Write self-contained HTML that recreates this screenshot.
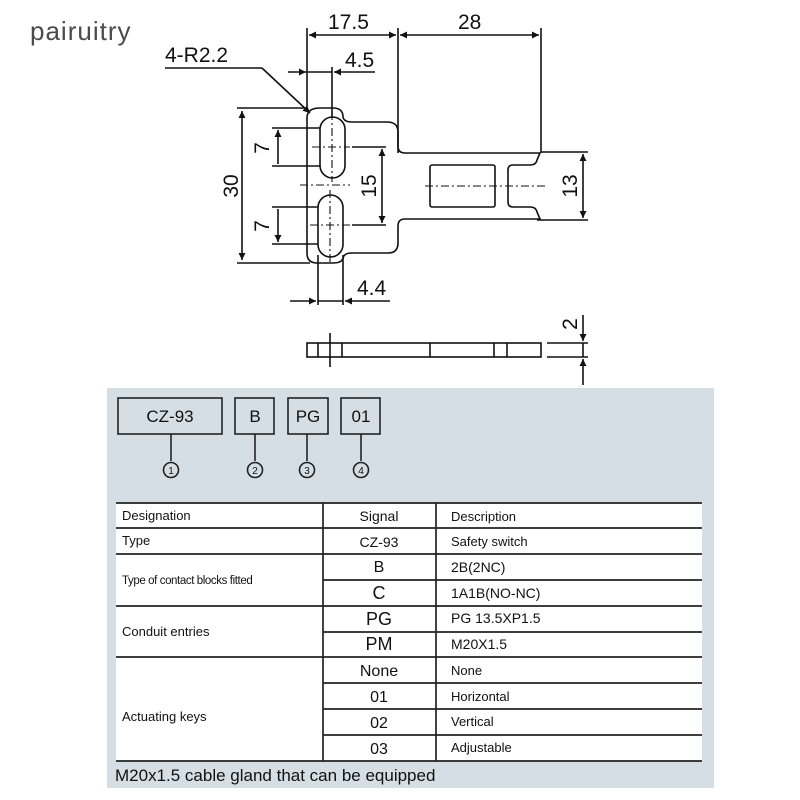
<!DOCTYPE html>
<html><head><meta charset="utf-8"><style>
html,body{margin:0;padding:0;background:#fff;}
svg{display:block;}
text{font-family:"Liberation Sans",Arial,sans-serif;fill:#111;}
</style></head><body>
<svg width="800" height="800" viewBox="0 0 800 800" xmlns="http://www.w3.org/2000/svg">
<defs>
<marker id="a" viewBox="0 0 10 10" refX="10" refY="5" markerWidth="11" markerHeight="7" orient="auto-start-reverse" markerUnits="userSpaceOnUse"><path d="M0,0L10,5L0,10z" fill="#111"/></marker>
</defs>
<text x="30" y="40" font-size="26" style="fill:#4a4a4a" letter-spacing="1">pairuitry</text>

<g stroke="#111" stroke-width="1.6" fill="none">
<path d="M320,108 L333,108 Q343,108 343,117 Q344,122 352,122 L387,122 Q398,122 398,132 L398,146 Q398,153 405,153 L540,153 L537,160 Q536,165 530,165 L513,165 Q508,165 508,170 L508,202 Q508,207 513,207 L530,207 Q536,207 537,212 L540,219 L405,219 Q398,219 398,226 L398,243 Q398,253 388,253 L352,253 Q344,253 343,258 Q342,263 333,263 L317,263 Q307,263 307,253 L307,118 Q307,108 320,108 Z"/>
<rect x="430" y="165" width="65" height="42" rx="2"/>
<rect x="320" y="117" width="25" height="61" rx="12.5"/>
<rect x="318" y="195" width="25" height="62" rx="12.5"/>
<line x1="307" y1="28" x2="307" y2="108"/>
<line x1="398" y1="28" x2="398" y2="153"/>
<line x1="541" y1="28" x2="541" y2="153"/>
<line x1="309" y1="35" x2="396" y2="35" marker-start="url(#a)" marker-end="url(#a)"/>
<line x1="400" y1="35" x2="539" y2="35" marker-start="url(#a)" marker-end="url(#a)"/>
<line x1="332" y1="67" x2="332" y2="118"/>
<line x1="288" y1="72" x2="306" y2="72" marker-end="url(#a)"/>
<line x1="375" y1="72" x2="334" y2="72" marker-end="url(#a)"/>
<line x1="307" y1="72" x2="332" y2="72"/>
<line x1="165" y1="68" x2="262" y2="68"/>
<line x1="262" y1="68" x2="310" y2="113" marker-end="url(#a)"/>
<line x1="237" y1="108" x2="307" y2="108"/>
<line x1="237" y1="263" x2="310" y2="263"/>
<line x1="242" y1="111" x2="242" y2="260" marker-start="url(#a)" marker-end="url(#a)"/>
<line x1="272" y1="128" x2="320" y2="128"/>
<line x1="272" y1="166" x2="320" y2="166"/>
<line x1="278" y1="130" x2="278" y2="164" marker-start="url(#a)"/>
<line x1="272" y1="207" x2="318" y2="207"/>
<line x1="272" y1="244" x2="318" y2="244"/>
<line x1="278" y1="209" x2="278" y2="242" marker-end="url(#a)"/>
<line x1="352" y1="147" x2="386" y2="147"/>
<line x1="352" y1="225" x2="386" y2="225"/>
<line x1="382" y1="149" x2="382" y2="223" marker-start="url(#a)" marker-end="url(#a)"/>
<line x1="541" y1="152" x2="588" y2="152"/>
<line x1="537" y1="220" x2="588" y2="220"/>
<line x1="583" y1="154" x2="583" y2="218" marker-start="url(#a)" marker-end="url(#a)"/>
<line x1="318" y1="255" x2="318" y2="305"/>
<line x1="343" y1="255" x2="343" y2="305"/>
<line x1="290" y1="301" x2="316" y2="301" marker-end="url(#a)"/>
<line x1="390" y1="301" x2="345" y2="301" marker-end="url(#a)"/>
<line x1="318" y1="301" x2="343" y2="301"/>
<rect x="307" y="343" width="234" height="14"/>
<line x1="318" y1="343" x2="318" y2="357"/>
<line x1="330" y1="333" x2="330" y2="367"/>
<line x1="342" y1="343" x2="342" y2="357"/>
<line x1="430" y1="343" x2="430" y2="357"/>
<line x1="494" y1="343" x2="494" y2="357"/>
<line x1="507" y1="343" x2="507" y2="357"/>
<line x1="547" y1="343" x2="588" y2="343"/>
<line x1="547" y1="357" x2="588" y2="357"/>
<line x1="583" y1="315" x2="583" y2="341" marker-end="url(#a)"/>
<line x1="583" y1="385" x2="583" y2="359" marker-end="url(#a)"/>
<line x1="583" y1="343" x2="583" y2="357"/>
</g>
<g stroke="#111" stroke-width="1.1" fill="none" stroke-dasharray="8,3,2,3">
<line x1="332" y1="112" x2="332" y2="182"/>
<line x1="330" y1="190" x2="330" y2="262"/>
<line x1="312" y1="147" x2="350" y2="147"/>
<line x1="310" y1="225" x2="350" y2="225"/>
<line x1="300" y1="185" x2="350" y2="185"/>
<line x1="425" y1="186" x2="548" y2="186"/>
</g>
<g font-size="21">
<text x="328" y="29">17.5</text>
<text x="458" y="29">28</text>
<text x="345" y="67">4.5</text>
<text x="165" y="62">4-R2.2</text>
<text x="357" y="295">4.4</text>
<text transform="translate(238,186) rotate(-90)" text-anchor="middle">30</text>
<text transform="translate(269,148) rotate(-90)" text-anchor="middle">7</text>
<text transform="translate(269,226) rotate(-90)" text-anchor="middle">7</text>
<text transform="translate(376,186) rotate(-90)" text-anchor="middle">15</text>
<text transform="translate(577,186) rotate(-90)" text-anchor="middle">13</text>
<text transform="translate(577,324) rotate(-90)" text-anchor="middle">2</text>
</g>

<rect x="107" y="388" width="607" height="400" fill="#d6dee5"/>
<g stroke="#222" stroke-width="1.6" fill="none">
<rect x="118" y="398" width="104" height="36"/>
<rect x="235" y="398" width="39" height="36"/>
<rect x="288" y="398" width="40" height="36"/>
<rect x="341" y="398" width="39" height="36"/>
<line x1="171" y1="434" x2="171" y2="461"/>
<line x1="255" y1="434" x2="255" y2="461"/>
<line x1="307" y1="434" x2="307" y2="461"/>
<line x1="361" y1="434" x2="361" y2="461"/>
<circle cx="171" cy="470" r="7.5"/>
<circle cx="255" cy="470" r="7.5"/>
<circle cx="307" cy="470" r="7.5"/>
<circle cx="361" cy="470" r="7.5"/>
</g>
<g font-size="17" text-anchor="middle">
<text x="170" y="422">CZ-93</text>
<text x="255" y="422">B</text>
<text x="308" y="422">PG</text>
<text x="361" y="422">01</text>
</g>
<g font-size="10" text-anchor="middle">
<text x="171" y="474">1</text><text x="255" y="474">2</text><text x="307" y="474">3</text><text x="361" y="474">4</text>
</g>
<rect x="116" y="503" width="586" height="258" fill="#fff"/>
<g stroke="#222" stroke-width="1.7">
<line x1="116" y1="503" x2="702" y2="503"/>
<line x1="116" y1="528" x2="702" y2="528"/>
<line x1="116" y1="554" x2="702" y2="554"/>
<line x1="323" y1="580" x2="702" y2="580"/>
<line x1="116" y1="606" x2="702" y2="606"/>
<line x1="323" y1="632" x2="702" y2="632"/>
<line x1="116" y1="657" x2="702" y2="657"/>
<line x1="323" y1="683" x2="702" y2="683"/>
<line x1="323" y1="709" x2="702" y2="709"/>
<line x1="323" y1="735" x2="702" y2="735"/>
<line x1="116" y1="761" x2="702" y2="761"/>
<line x1="323" y1="503" x2="323" y2="761"/>
<line x1="436" y1="503" x2="436" y2="761"/>
</g>
<g font-size="13">
<text x="122" y="520">Designation</text>
<text x="122" y="545">Type</text>
<text x="122" y="584" font-size="11.5" letter-spacing="-0.4">Type of contact blocks fitted</text>
<text x="122" y="636">Conduit entries</text>
<text x="122" y="721">Actuating keys</text>
<text x="451" y="521">Description</text>
<text x="451" y="546">Safety switch</text>
<text x="451" y="572" font-size="14">2B(2NC)</text>
<text x="451" y="598" font-size="14">1A1B(NO-NC)</text>
<text x="451" y="623" font-size="14">PG 13.5XP1.5</text>
<text x="451" y="649" font-size="14">M20X1.5</text>
<text x="451" y="675">None</text>
<text x="451" y="701">Horizontal</text>
<text x="451" y="726">Vertical</text>
<text x="451" y="752">Adjustable</text>
</g>
<g font-size="14" text-anchor="middle">
<text x="379" y="521">Signal</text>
<text x="379" y="547">CZ-93</text>
<text x="379" y="572" font-size="16">B</text>
<text x="379" y="599" font-size="18">C</text>
<text x="379" y="625" font-size="18">PG</text>
<text x="379" y="650" font-size="18">PM</text>
<text x="379" y="676" font-size="16">None</text>
<text x="379" y="702" font-size="16">01</text>
<text x="379" y="728" font-size="16">02</text>
<text x="379" y="754" font-size="16">03</text>
</g>
<text x="115" y="781" font-size="17">M20x1.5 cable gland that can be equipped</text>
</svg>
</body></html>
